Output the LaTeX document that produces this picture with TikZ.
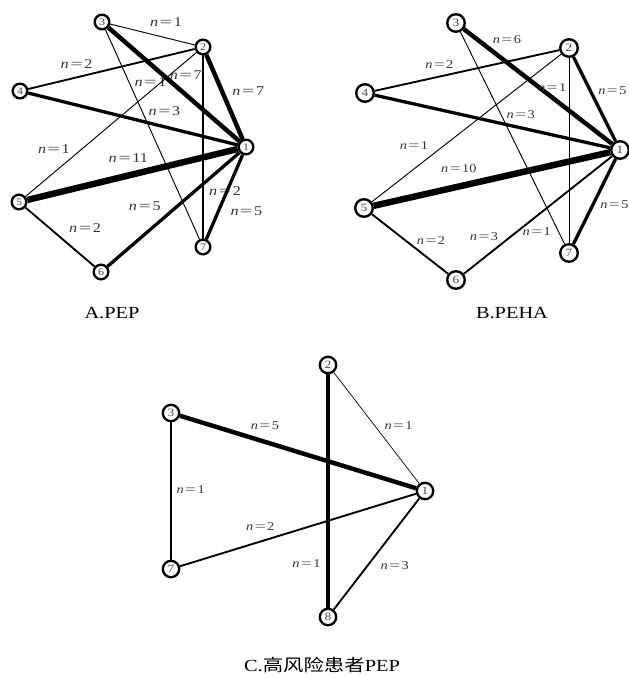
\documentclass[tikz,border=0pt]{standalone}
\usepackage{fontspec}
\setmainfont{Liberation Serif}[FakeStretch=1.2]
\newfontfamily\cjk{Noto Sans CJK SC}[FakeStretch=1.2]
\usetikzlibrary{backgrounds}
\newcommand{\nval}[1]{\textit{n}\hspace{0.12em}\scalebox{1.35}[1]{=}\hspace{0.12em}#1}

\begin{document}
\begin{tikzpicture}[
x=0.03cm,
y=-0.03cm,
vert/.style={
circle,
draw,
line width=2pt,
fill=white,
inner sep=0pt,
minimum size=12.5pt,
text=black!70,
font=\fontsize{8.5}{9}\selectfont
},
vertb/.style={vert,minimum size=15pt,font=\fontsize{9.5}{10}\selectfont},
vertc/.style={vert,minimum size=14pt,font=\fontsize{9.5}{10}\selectfont},
laba/.style={
inner sep=1pt,
text=black!80,
font=\fontsize{11.5}{12}\selectfont
},
lab/.style={laba,font=\fontsize{10.2}{11}\selectfont},
capt/.style={font=\fontsize{14.5}{16}\selectfont},
e1/.style={line width=0.8pt},
e2/.style={line width=1.6pt},
e3/.style={line width=2.8pt},
e4/.style={line width=3.8pt},
e5/.style={line width=5.5pt}
]

\useasboundingbox (0,0) rectangle (629,676);

%%%%%%%%%%%%%%%%%%%%%%%%%%%%%%%%%%%%%%%%%%%%%
% A.PEP
%%%%%%%%%%%%%%%%%%%%%%%%%%%%%%%%%%%%%%%%%%%%%

\node[vert] (a1) at (246,147) {1};
\node[vert] (a2) at (203,47) {2};
\node[vert] (a3) at (102,22) {3};
\node[vert] (a4) at (20,91) {4};
\node[vert] (a5) at (19,202) {5};
\node[vert] (a6) at (101,272) {6};
\node[vert] (a7) at (203,247) {7};

\begin{pgfonlayer}{background}
\draw[e1] (a3)--node[laba,pos=0.66,above=8pt] {\nval{1}} (a2);
\draw[e2] (a4)--node[laba,pos=0.29,above=6pt] {\nval{2}} (a2);
\draw[e1] (a3)--node[laba,pos=0.25,right=3.5pt] {\nval{1}} (a7);
\draw[e4] (a3)--node[laba,pos=0.59,above=10pt] {\nval{7}} (a1);
\draw[e4] (a2)--node[laba,pos=0.43,right=6pt] {\nval{7}} (a1);
\draw[e3] (a4)--node[laba,pos=0.65,above=7.5pt] {\nval{3}} (a1);
\draw[e1] (a5)--node[laba,pos=0.33,left=9pt] {\nval{1}} (a2);
\draw[e5] (a5)--node[laba,pos=0.48,above=7.5pt] {\nval{11}} (a1);
\draw[e3] (a6)--node[laba,pos=0.53,left=12pt] {\nval{5}} (a1);
\draw[e2] (a2)--node[laba,pos=0.74,right=3.5pt] {\nval{2}} (a7);
\draw[e3] (a7)--node[laba,pos=0.33,right=8pt] {\nval{5}} (a1);
\draw[e2] (a5)--node[laba,pos=0.34,right=15.5pt] {\nval{2}} (a6);
\end{pgfonlayer}

\node[capt] (capA) at (112,313) {A.PEP};

%%%%%%%%%%%%%%%%%%%%%%%%%%%%%%%%%%%%%%%%%%%%%
% B.PEHA
%%%%%%%%%%%%%%%%%%%%%%%%%%%%%%%%%%%%%%%%%%%%%

\node[vertb] (b1) at (620,150) {1};
\node[vertb] (b2) at (569,48) {2};
\node[vertb] (b3) at (456,23) {3};
\node[vertb] (b4) at (365,93) {4};
\node[vertb] (b5) at (364,208) {5};
\node[vertb] (b6) at (456,280) {6};
\node[vertb] (b7) at (569,253) {7};

\begin{pgfonlayer}{background}
\draw[e4] (b3)--node[lab,pos=0.29,above=13.5pt] {\nval{6}} (b1);
\draw[e2] (b4)--node[lab,pos=0.35,above=5pt] {\nval{2}} (b2);
\draw[e1] (b2)--node[lab,pos=0.16,left=1pt] {\nval{1}} (b7);
\draw[e3] (b2)--node[lab,pos=0.40,right=4.5pt] {\nval{5}} (b1);
\draw[e3] (b4)--node[lab,pos=0.62,above=5.5pt] {\nval{3}} (b1);
\draw[e1] (b5)--node[lab,pos=0.38,left=12pt] {\nval{1}} (b2);
\draw[e5] (b5)--node[lab,pos=0.36,above=8.5pt] {\nval{10}} (b1);
\draw[e3] (b7)--node[lab,pos=0.46,right=4pt] {\nval{5}} (b1);
\draw[e2] (b5)--node[lab,pos=0.44,right=8pt] {\nval{2}} (b6);
\draw[e2] (b6)--node[lab,pos=0.32,left=9.5pt] {\nval{3}} (b1);
\draw[e1] (b3)--node[lab,pos=0.94,left=5pt] {\nval{1}} (b7);
\end{pgfonlayer}

\node[capt] (capB) at (512,313) {B.PEHA};

%%%%%%%%%%%%%%%%%%%%%%%%%%%%%%%%%%%%%%%%%%%%%
% C. high risk
%%%%%%%%%%%%%%%%%%%%%%%%%%%%%%%%%%%%%%%%%%%%%

\node[vertc] (c1) at (425,491) {1};
\node[vertc] (c2) at (328,365) {2};
\node[vertc] (c3) at (171,413) {3};
\node[vertc] (c7) at (171,569) {7};
\node[vertc] (c8) at (328,617) {8};

\begin{pgfonlayer}{background}
\draw[e3] (c2)--node[lab,pos=0.81,left=4pt] {\nval{1}} (c8);
\draw[e4] (c3)--node[lab,pos=0.36,above=7.5pt] {\nval{5}} (c1);
\draw[line width=0.6pt] (c2)--node[lab,pos=0.48,right=7pt] {\nval{1}} (c1);
\draw[e2] (c3)--node[lab,pos=0.49,right=3pt] {\nval{1}} (c7);
\draw[e2] (c7)--node[lab,pos=0.34,above=8pt] {\nval{2}} (c1);
\draw[e2] (c8)--node[lab,pos=0.40,right=9pt] {\nval{3}} (c1);
\end{pgfonlayer}

\node[capt] (capC) at (322,665) {C.{\cjk 高风险患者}PEP};

\end{tikzpicture}
\end{document}
